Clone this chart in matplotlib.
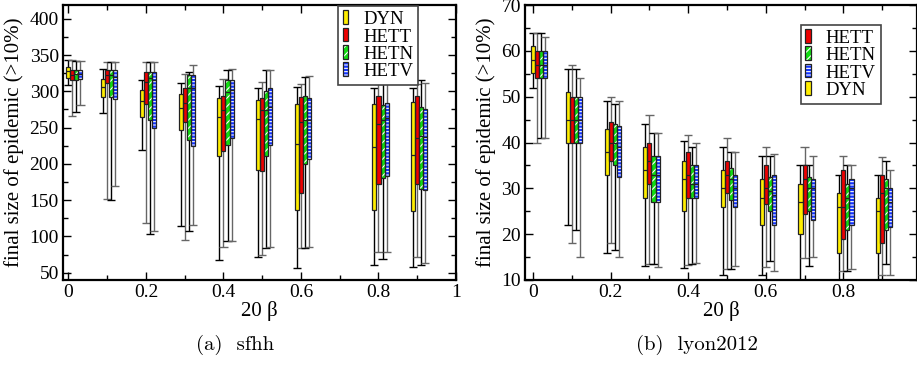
import matplotlib
matplotlib.use("Agg")
import matplotlib.pyplot as plt
from matplotlib.patches import Patch, Rectangle
from matplotlib.ticker import MultipleLocator

plt.rcParams['font.family'] = ['Liberation Serif', 'DejaVu Serif']
plt.rcParams['hatch.linewidth'] = 0.8

# box stats per group: (low whisker, q1, median, q3, high whisker)
sfhh_x = [0.01, 0.1, 0.2, 0.3, 0.4, 0.5, 0.6, 0.8, 0.9]
sfhh_DYN = [(309, 319, 327.5, 333.5, 343), (270, 292, 306, 317, 331), (219, 265, 287, 302, 316),
            (115, 247, 277, 296, 312), (68, 211, 265, 291, 308), (72, 191, 262, 288, 305),
            (56, 137, 227, 283, 306), (60, 136, 223, 283, 304), (58, 135, 212, 286, 304)]
sfhh_HETT = [(266, 315, 323, 329, 343), (152, 311, 323, 330, 340), (118, 282, 313, 326, 340),
             (95, 258, 284, 305, 324), (86, 218, 274, 294, 317), (75, 190, 274, 291, 313),
             (84, 160, 258, 292, 310), (78, 172, 255, 294, 310), (72, 172, 236, 294, 310)]
sfhh_HETN = [(271, 316, 324, 329, 342), (150, 292, 322, 329, 340), (103, 260, 319, 327, 340),
             (107, 233, 305, 323, 326), (94, 226, 299, 315, 329), (84, 211, 274, 300, 329),
             (84, 200, 260, 294, 320), (69, 181, 260, 281, 316), (61, 166, 239, 278, 316)]
sfhh_HETV = [(281, 317, 324, 330, 342), (170, 290, 320, 330, 340), (107, 250, 315, 327, 340),
             (116, 224, 305, 323, 336), (94, 236, 302, 316, 331), (86, 226, 278, 305, 329),
             (85, 207, 261, 291, 321), (78, 184, 263, 284, 315), (63, 164, 237, 275, 311)]

lyon_x = [0.01, 0.1, 0.2, 0.3, 0.4, 0.5, 0.6, 0.7, 0.8, 0.9]
lyon_DYN = [(52, 55.2, 58, 61, 64), (22, 40, 45, 51, 56), (16, 33, 38, 43, 49), (13, 28, 34, 39, 44),
            (12.6, 25, 32, 36, 40.3), (11, 26, 30, 34, 39), (11, 22, 28, 32, 37), (10, 20, 27, 31, 35),
            (10, 16, 26, 29, 33), (10, 16, 25, 28, 33)]
lyon_HETT = [(40, 54, 57, 60, 64), (18, 40, 45, 50, 57), (18, 36, 40, 44.5, 50), (13.6, 31, 36, 40, 46),
             (13.3, 28, 33, 38, 41.6), (12.5, 29, 33, 36, 41), (12.8, 26.5, 30, 35, 39),
             (14.8, 24.5, 32, 35, 39), (12, 19, 26, 34, 37), (11, 18, 29, 33, 36.8)]
lyon_HETN = [(41, 54, 57, 60, 64), (21, 40, 45, 50, 56), (16.5, 35, 40, 44, 48.5), (13.4, 27, 33, 37, 42),
             (13.6, 28, 31, 35, 39), (12.3, 27.5, 32, 34.5, 38), (14.2, 25, 29.5, 32.5, 37),
             (13, 25, 30, 32.5, 35), (12, 21, 28, 31, 35), (13.6, 21, 30, 32, 36)]
lyon_HETV = [(41, 54, 57, 60, 63), (15, 40, 45, 50, 54), (15, 32.5, 39, 43.5, 49), (12.8, 27, 33, 37, 42),
             (13.8, 28, 31, 35, 40), (13, 26, 30, 33, 38), (12, 22, 28.5, 33, 37.4), (15, 23, 30, 32, 37),
             (12.5, 22, 30, 32, 35), (11, 21.5, 27, 30, 34)]

# name: (face colour, hatch, whisker colour)
styles = {
    'DYN': ('#ffee00', None, 'black'),
    'HETT': ('#ee0000', None, '#666666'),
    'HETN': ('#11dd11', '////', 'black'),
    'HETV': ('#1133ff', '-----', '#666666'),
}
offsets = {'DYN': -1, 'HETT': 0, 'HETN': 1, 'HETV': 2}
W = 0.0105


def draw_boxes(ax, xs, stats, name):
    face, hatch, wcol = styles[name]
    pos = [x + offsets[name] * W for x in xs]
    lo = [s[0] for s in stats]
    q1 = [s[1] for s in stats]
    med = [s[2] for s in stats]
    q3 = [s[3] for s in stats]
    hi = [s[4] for s in stats]
    ax.vlines(pos, lo, hi, color=wcol, lw=1.0, zorder=2)
    ax.hlines(lo, [p - W for p in pos], [p + W for p in pos], color=wcol, lw=1.0, zorder=2)
    ax.hlines(hi, [p - W for p in pos], [p + W for p in pos], color=wcol, lw=1.0, zorder=2)
    heights = [b - a for a, b in zip(q1, q3)]
    if hatch:
        ax.bar(pos, heights, W, bottom=q1, color=face, edgecolor='white', hatch=hatch, lw=0, zorder=3)
    else:
        ax.bar(pos, heights, W, bottom=q1, color=face, lw=0, zorder=3)
    ax.bar(pos, heights, W, bottom=q1, fill=False, edgecolor='#222222', lw=0.9, zorder=4)
    ax.hlines(med, [p - W / 2 for p in pos], [p + W / 2 for p in pos], color='#222222', lw=0.9, zorder=5)


class BoxHandler:
    # narrow filled (optionally hatched) rectangle with a dark outline
    def legend_artist(self, legend, orig_handle, fontsize, handlebox):
        x0, y0 = handlebox.xdescent, handlebox.ydescent
        w, h = handlebox.width, handlebox.height
        face, hatch, _ = styles[orig_handle.get_label()]
        tr = handlebox.get_transform()
        if hatch:
            inner = Rectangle((x0, y0), w, h, facecolor=face, edgecolor='white', hatch=hatch, lw=0, transform=tr)
        else:
            inner = Rectangle((x0, y0), w, h, facecolor=face, lw=0, transform=tr)
        outer = Rectangle((x0, y0), w, h, fill=False, edgecolor='#222222', lw=0.9, transform=tr)
        handlebox.add_artist(inner)
        handlebox.add_artist(outer)
        return outer


def style_axes(ax, major_y, minor_y):
    ax.xaxis.set_major_locator(MultipleLocator(0.2))
    ax.xaxis.set_minor_locator(MultipleLocator(0.1))
    ax.yaxis.set_major_locator(MultipleLocator(major_y))
    ax.yaxis.set_minor_locator(MultipleLocator(minor_y))
    ax.tick_params(which='both', direction='in', top=True, right=True, labelsize=14, pad=3)
    ax.tick_params(which='major', length=6, width=1)
    ax.tick_params(which='minor', length=3.5, width=1)
    ax.xaxis.set_major_formatter(lambda v, p: '0' if abs(v) < 1e-9 else ('1' if abs(v - 1) < 1e-9 else f'{v:.1f}'))
    for sp in ax.spines.values():
        sp.set_linewidth(1.6)
    ax.set_xlabel('20 β', fontsize=15, labelpad=0)
    ax.set_ylabel('final size of epidemic (>10%)', fontsize=15, labelpad=4)


fig = plt.figure(figsize=(9.17, 3.67), dpi=100)
ax1 = fig.add_axes([63 / 917, 87 / 367, 393 / 917, 275 / 367])
ax2 = fig.add_axes([525 / 917, 87 / 367, 392 / 917, 275 / 367])

for name, st in [('DYN', sfhh_DYN), ('HETT', sfhh_HETT), ('HETN', sfhh_HETN), ('HETV', sfhh_HETV)]:
    draw_boxes(ax1, sfhh_x, st, name)
for name, st in [('DYN', lyon_DYN), ('HETT', lyon_HETT), ('HETN', lyon_HETN), ('HETV', lyon_HETV)]:
    draw_boxes(ax2, lyon_x, st, name)

ax1.set_xlim(-0.014, 1.0)
ax1.set_ylim(40, 419)
style_axes(ax1, 50, 25)
ax2.set_xlim(-0.021, 0.99)
ax2.set_ylim(10, 70)
style_axes(ax2, 10, 5)

leg_kw = dict(handler_map={Patch: BoxHandler()}, fontsize=13.5, handlelength=0.3,
              handleheight=0.75, handletextpad=0.8, labelspacing=0.0, borderpad=0.25,
              borderaxespad=0, fancybox=False, framealpha=1, edgecolor='#444444')
order1 = ['DYN', 'HETT', 'HETN', 'HETV']
l1 = ax1.legend([Patch(label=n) for n in order1], order1, loc='upper left',
                bbox_to_anchor=(0.70, 0.996), **leg_kw)
l1.get_frame().set_linewidth(1.2)
order2 = ['HETT', 'HETN', 'HETV', 'DYN']
l2 = ax2.legend([Patch(label=n) for n in order2], order2, loc='upper left',
                bbox_to_anchor=(0.703, 0.928), **leg_kw)
l2.get_frame().set_linewidth(1.2)

fig.text(235 / 917, 0.06, '(a)  sfhh', fontsize=15, family='cmr10', ha='center', va='center')
fig.text(697 / 917, 0.06, '(b)  lyon2012', fontsize=15, family='cmr10', ha='center', va='center')

fig.savefig('out.png', dpi=100)
